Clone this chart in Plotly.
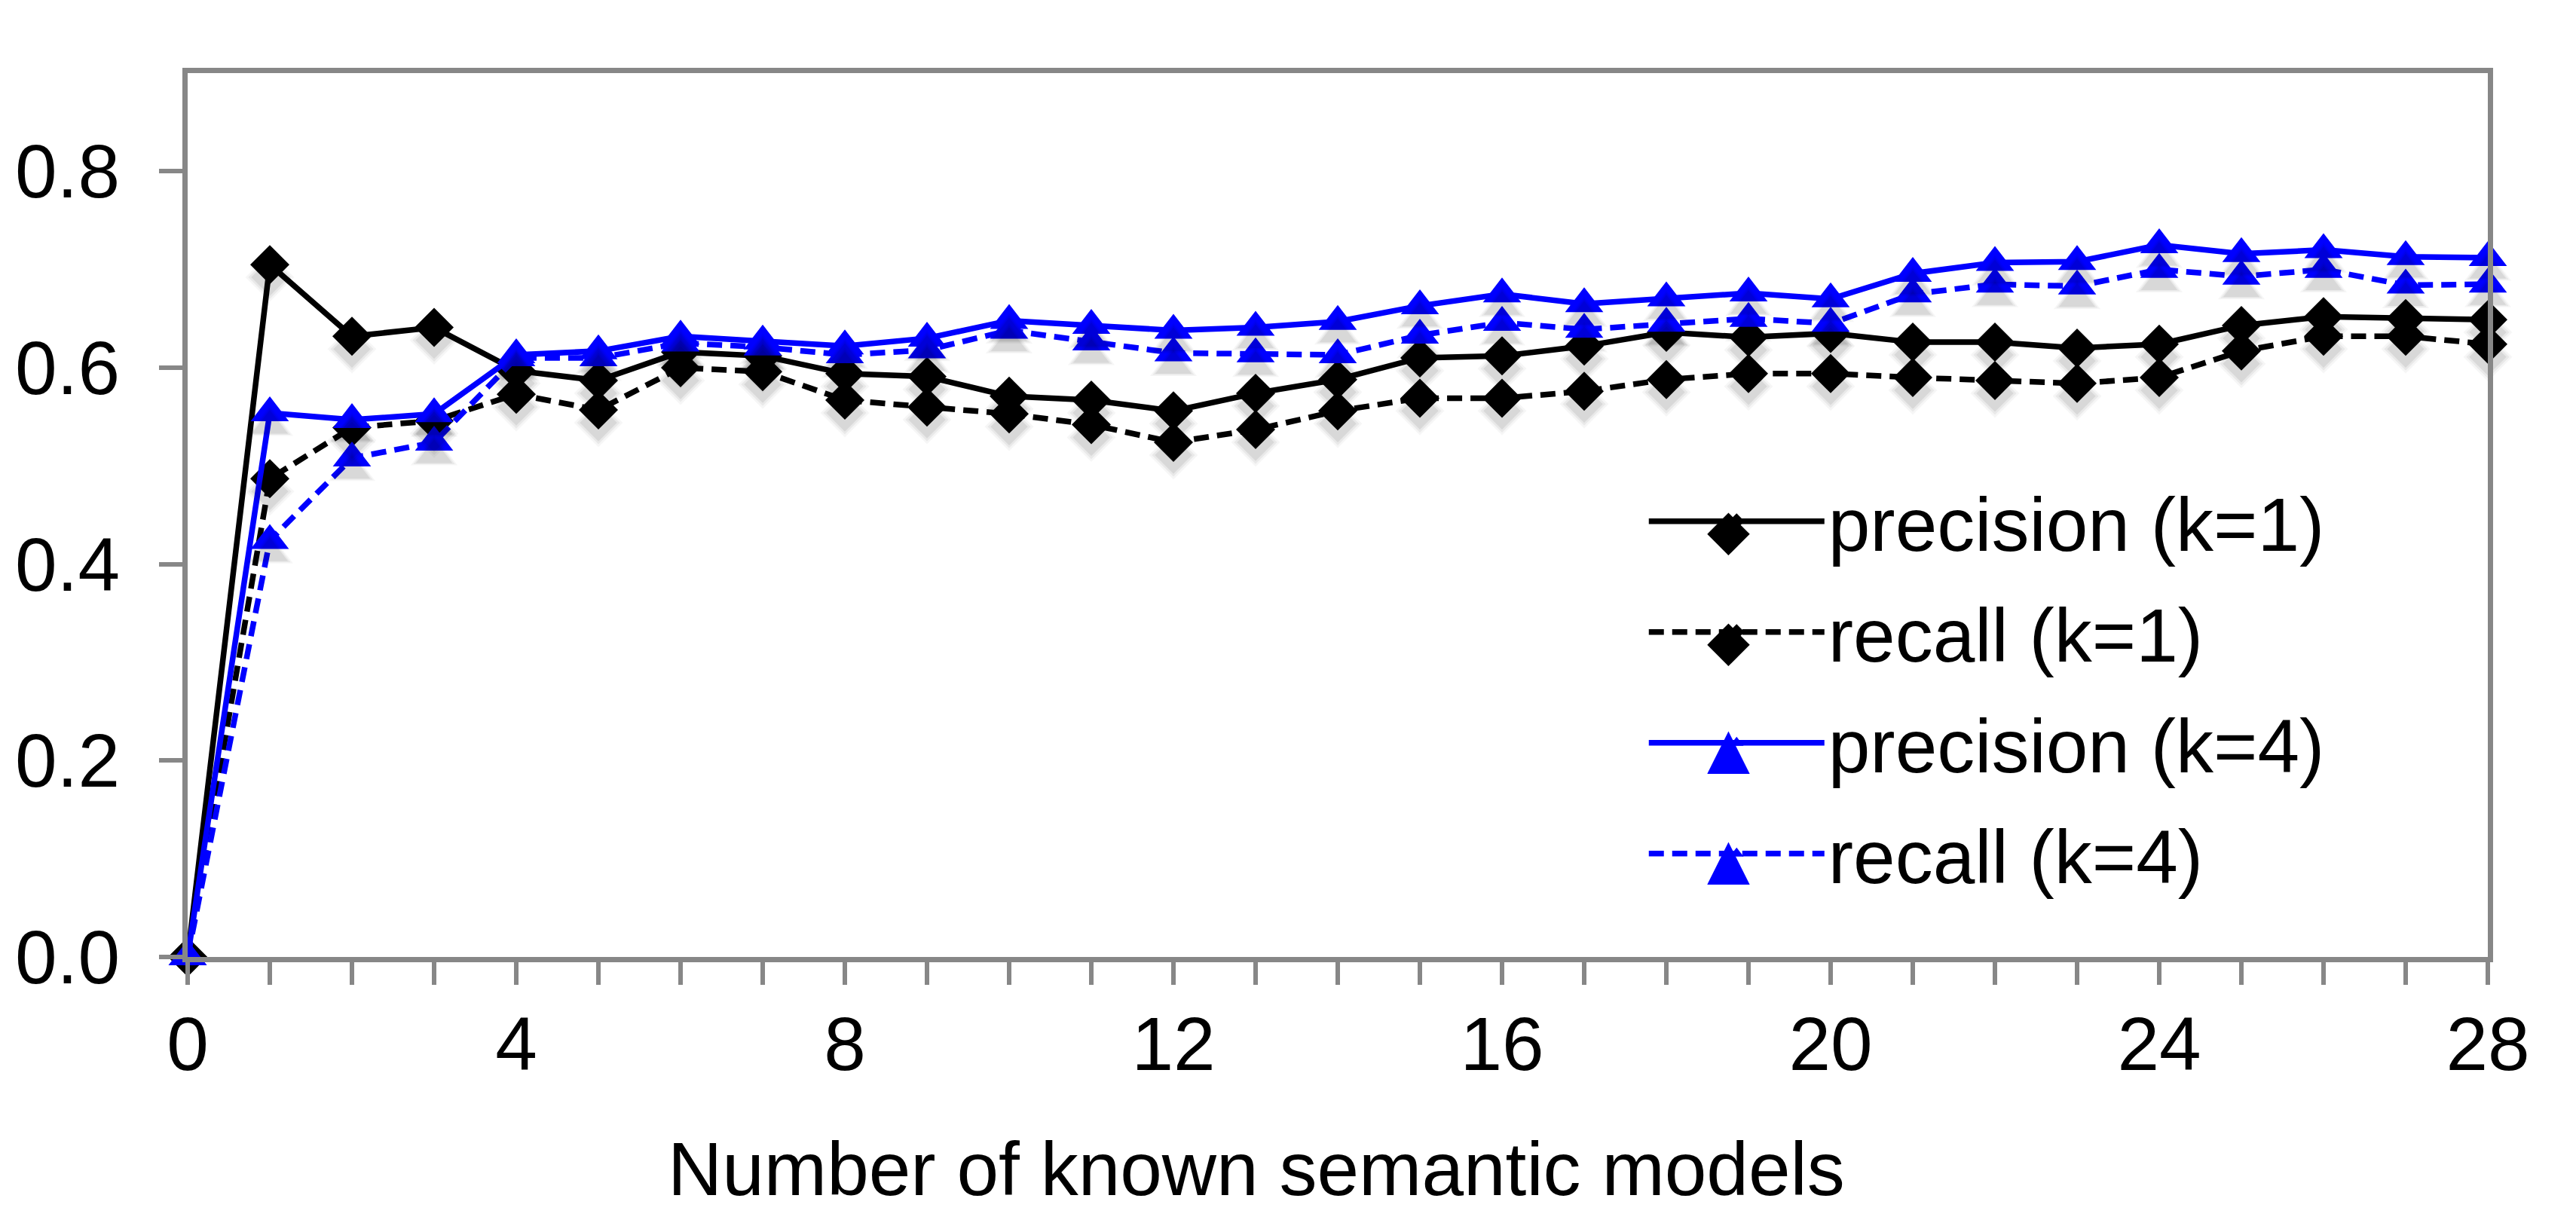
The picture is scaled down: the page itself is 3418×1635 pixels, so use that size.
import plotly.graph_objects as go

x_models = list(range(0, 29))
precision_k1 = [0.0, 0.705, 0.632, 0.641, 0.597, 0.587, 0.616, 0.612, 0.594, 0.591,
                0.571, 0.567, 0.556, 0.574, 0.588, 0.610, 0.612, 0.622, 0.636, 0.631,
                0.635, 0.626, 0.626, 0.620, 0.624, 0.643, 0.652, 0.650, 0.649]
recall_k1 = [0.0, 0.487, 0.539, 0.546, 0.573, 0.557, 0.600, 0.596, 0.567, 0.560,
             0.553, 0.542, 0.524, 0.537, 0.556, 0.569, 0.569, 0.576, 0.588, 0.594,
             0.594, 0.590, 0.587, 0.584, 0.590, 0.617, 0.632, 0.632, 0.624]
precision_k4 = [0.0, 0.554, 0.547, 0.553, 0.613, 0.617, 0.632, 0.627, 0.622, 0.630,
                0.648, 0.643, 0.638, 0.641, 0.647, 0.663, 0.675, 0.665, 0.671, 0.676,
                0.670, 0.696, 0.707, 0.708, 0.725, 0.716, 0.720, 0.713, 0.712]
recall_k4 = [0.0, 0.424, 0.508, 0.524, 0.610, 0.610, 0.625, 0.621, 0.613, 0.618,
             0.638, 0.626, 0.615, 0.614, 0.613, 0.633, 0.646, 0.639, 0.645, 0.650,
             0.645, 0.675, 0.685, 0.683, 0.700, 0.693, 0.700, 0.684, 0.685]

series_names = ["precision (k=1)", "recall (k=1)", "precision (k=4)", "recall (k=4)"]
x_tick_vals = list(range(0, 29))
x_tick_text = [str(v) if v % 4 == 0 else "" for v in x_tick_vals]
y_tick_vals = [0.0, 0.2, 0.4, 0.6, 0.8]
y_tick_text = ["0.0", "0.2", "0.4", "0.6", "0.8"]
x_title = "Number of known semantic models"

FONT = "Liberation Sans, Arial, Helvetica, sans-serif"
AXIS_COLOR = "#878787"
Y_RANGE = [0, 0.9]
SHADOW_SHIFT = 0.013  # drop-shadow offset (in y units) for the shadow overlay axis

fig = go.Figure()
styles = [
    (precision_k1, "black", "solid", "diamond", 40, "◆"),
    (recall_k1, "black", "20px,11px", "diamond", 40, "◆"),
    (precision_k4, "#0000FF", "solid", "triangle-up", 44, "▲"),
    (recall_k4, "#0000FF", "20px,11px", "triangle-up", 44, "▲"),
]

# soft drop shadows under the markers (drawn on a slightly shifted overlay axis)
for name, (ys, col, dash, sym, ms, glyph) in zip(series_names, styles):
    for extra, op in [(10, 0.035), (4, 0.05), (-2, 0.07)]:
        fig.add_trace(go.Scatter(
            x=x_models, y=ys, mode="markers", showlegend=False, hoverinfo="skip",
            marker=dict(symbol=sym, size=ms + extra, color="rgba(0,0,0,%.3f)" % op,
                        line=dict(width=0)),
            yaxis="y2", cliponaxis=False,
        ))

for i, (name, (ys, col, dash, sym, ms, glyph)) in enumerate(zip(series_names, styles)):
    fig.add_trace(go.Scatter(
        x=x_models, y=ys, name=name, mode="lines+markers", legendgroup="g%d" % i,
        line=dict(color=col, width=7.5, dash=dash),
        marker=dict(symbol=sym, size=ms, color=col, line=dict(width=0)),
        cliponaxis=False,
    ))

# large legend symbols (plotly caps legend marker size), placed on the legend lines
legend_row_y = [0.484, 0.359, 0.237, 0.112]
for (ys, col, dash, sym, ms, glyph), ry in zip(styles, legend_row_y):
    fig.add_annotation(
        xref="paper", yref="paper", x=0.670, y=ry, text=glyph, showarrow=False,
        xanchor="center", yanchor="middle",
        font=dict(family="DejaVu Sans", size=74, color=col),
    )

# x-axis title (off-centre in the original, so placed as an annotation)
fig.add_annotation(
    xref="paper", yref="paper", x=0.4645, y=-0.2396, text=x_title, showarrow=False,
    xanchor="center", yanchor="middle",
    font=dict(family=FONT, size=100, color="black"),
)

fig.update_layout(
    width=3418, height=1635,
    margin=dict(l=220, r=125, t=89, b=373),
    paper_bgcolor="white", plot_bgcolor="rgba(0,0,0,0)",
    font=dict(family=FONT, size=100, color="black"),
    showlegend=True,
    legend=dict(
        x=0.6336, y=0.554, xanchor="left", yanchor="top",
        bgcolor="rgba(0,0,0,0)", borderwidth=0,
        font=dict(family=FONT, size=100, color="black"),
        itemwidth=233, tracegroupgap=14, traceorder="grouped",
    ),
    xaxis=dict(
        range=[0, 28], tickmode="array", tickvals=x_tick_vals, ticktext=x_tick_text,
        ticks="outside", ticklen=30, tickwidth=6, tickcolor=AXIS_COLOR,
        showline=True, linecolor=AXIS_COLOR, linewidth=7, mirror=True,
        showgrid=False, zeroline=False,
        tickfont=dict(family=FONT, size=100, color="black"),
        ticklabelstandoff=-7,
    ),
    yaxis=dict(
        range=Y_RANGE, tickmode="array", tickvals=y_tick_vals, ticktext=y_tick_text,
        ticks="outside", ticklen=31, tickwidth=6, tickcolor=AXIS_COLOR,
        showline=True, linecolor=AXIS_COLOR, linewidth=7, mirror=True,
        showgrid=False, zeroline=False,
        tickfont=dict(family=FONT, size=100, color="black"),
        ticklabelstandoff=32,
    ),
    yaxis2=dict(
        range=[Y_RANGE[0] + SHADOW_SHIFT, Y_RANGE[1] + SHADOW_SHIFT],
        overlaying="y", visible=False,
    ),
)

fig.write_html("out.html")
